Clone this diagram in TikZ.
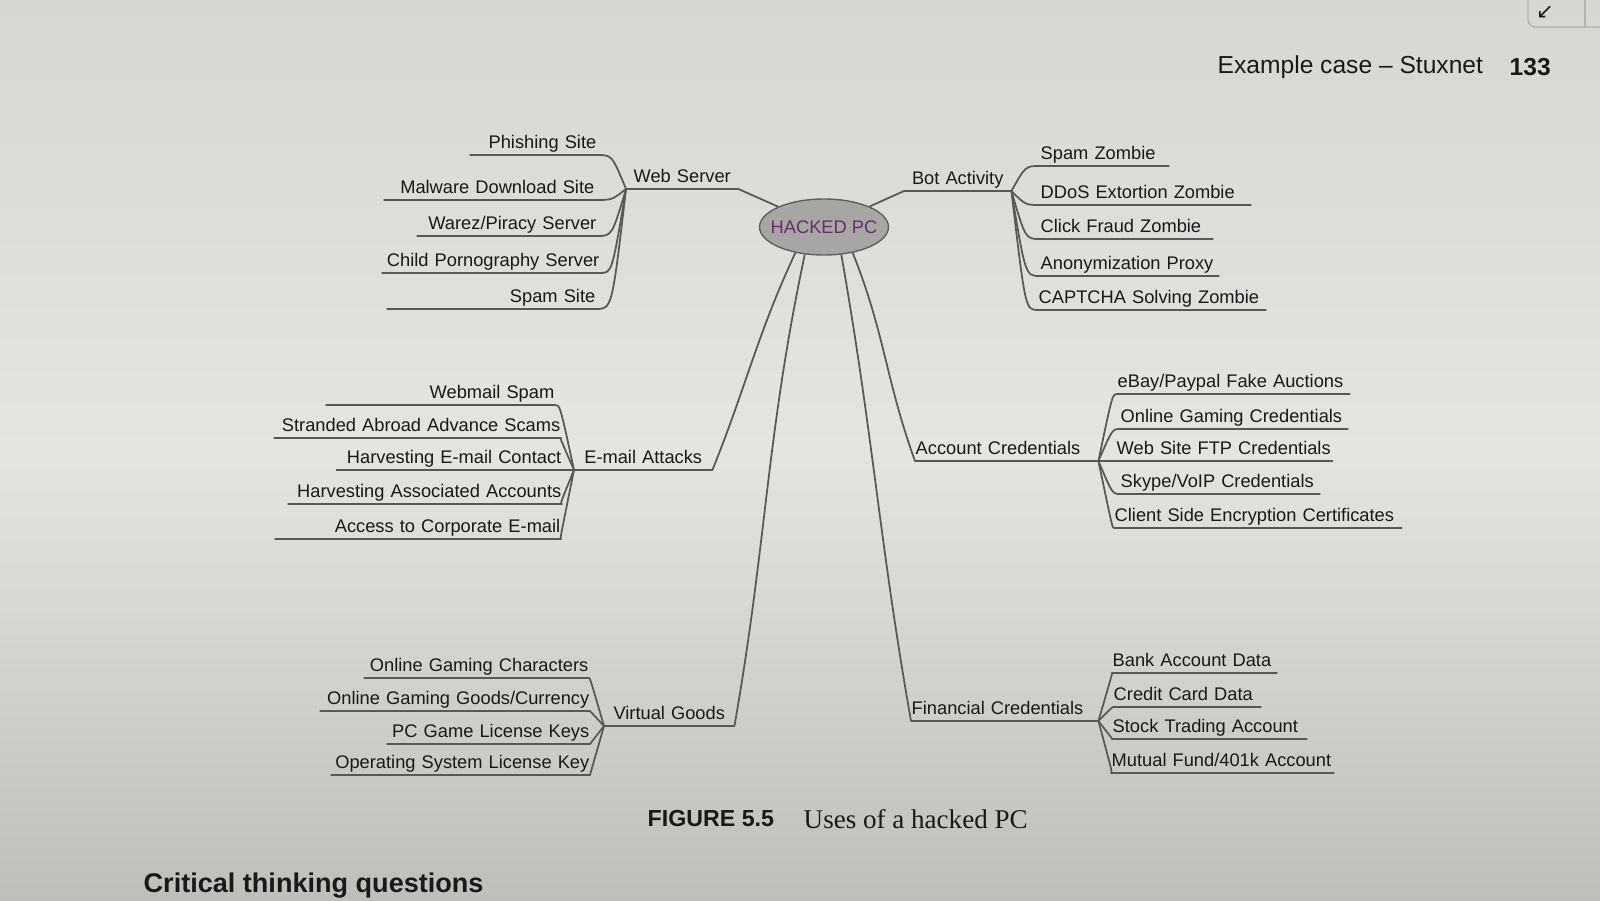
\documentclass[tikz,border=0pt]{standalone}
\usepackage{fontspec}
\setmainfont{Liberation Sans}
\newfontfamily\captionserif{Liberation Serif}
\newfontfamily\symbolfont{DejaVu Sans}
\usetikzlibrary{calc,shapes.geometric}

\definecolor{paperA}{RGB}{214,214,210}
\definecolor{paperB}{RGB}{228,228,224}
\definecolor{paperC}{RGB}{190,190,187}
\definecolor{inkline}{RGB}{88,88,88}
\definecolor{inktext}{RGB}{25,25,25}
\definecolor{pcfill}{RGB}{168,166,164}
\definecolor{pctext}{RGB}{105,45,105}

\begin{document}
\begin{tikzpicture}[
  font=\fontsize{5.2}{6.2}\selectfont,
  text=inktext,
  link/.style={draw=inkline, line width=0.5pt, line join=round},
  branch/.style={inner xsep=0pt, inner ysep=1.3pt, text depth=0.4pt},
  leafL/.style={branch, anchor=south east, align=right},
  leafR/.style={branch, anchor=south west, align=left},
  twigL/.style={to path={.. controls ($(\tikztostart|-\tikztotarget)+(-0.14,0)$) .. (\tikztotarget)}},
  twigR/.style={to path={.. controls ($(\tikztostart|-\tikztotarget)+(0.14,0)$) .. (\tikztotarget)}},
  core/.style={draw=gray!75!black, fill=pcfill, ellipse, minimum width=1.28cm, minimum height=0.56cm, inner xsep=-2.2pt, inner ysep=0pt, text=pctext}
]

% page background
\shade[top color=paperA, bottom color=paperC, middle color=paperB] (0,0) rectangle (16,9);
\useasboundingbox (0,0) rectangle (16,9);
\clip (0,0) rectangle (16,9);

% running head and window button
\node[anchor=west, inner sep=0pt, font=\fontsize{7}{8}\selectfont] (runhead) at (12.17,8.33) {Example case -- Stuxnet};
\node[anchor=west, inner sep=0pt, font=\fontsize{7}{8}\selectfont\bfseries] (pagenum) at (15.09,8.33) {133};
\draw[gray!60, rounded corners=2pt] (15.28,9.2) rectangle (16.3,8.73);
\draw[gray!60] (15.85,9) -- (15.85,8.73);
\node[font=\symbolfont\fontsize{6}{7}\selectfont] (cornerbtn) at (15.45,8.88) {↙};

% centre
\node[core] (pc) at (8.24,6.73) {HACKED PC};

% main branches
\node[branch, anchor=south west, text width=1.11cm, align=center] (web) at (6.26,7.11) {Web Server};
\node[branch, anchor=south west, text width=1.06cm, align=center] (bot) at (9.04,7.09) {Bot Activity};
\node[branch, anchor=south west, text width=1.37cm, align=center] (email) at (5.74,4.30) {E-mail Attacks};
\node[branch, anchor=south west, text width=1.82cm, align=left] (account) at (9.15,4.39) {Account Credentials};
\node[branch, anchor=south west, text width=1.29cm, align=center] (virtual) at (6.04,1.74) {Virtual Goods};
\node[branch, anchor=south west, text width=1.86cm, align=left] (finance) at (9.11,1.79) {Financial Credentials};

% web server
\node[leafL, text width=1.26cm] (phishing) at (5.97,7.45) {Phishing Site};
\node[leafL, text width=2.10cm] (malware) at (5.95,7.00) {Malware Download Site};
\node[leafL, text width=1.79cm] (warez) at (5.97,6.64) {Warez/Piracy Server};
\node[leafL, text width=2.17cm] (childsrv) at (6.00,6.27) {Child Pornography Server};
\node[leafL, text width=2.08cm] (spamsite) at (5.96,5.91) {Spam Site};

% bot activity
\node[leafR, text width=1.28cm] (spamzombie) at (10.40,7.34) {Spam Zombie};
\node[leafR, text width=2.10cm] (ddos) at (10.40,6.95) {DDoS Extortion Zombie};
\node[leafR, text width=1.72cm] (clickfraud) at (10.40,6.61) {Click Fraud Zombie};
\node[leafR, text width=1.78cm] (anonproxy) at (10.40,6.24) {Anonymization Proxy};
\node[leafR, text width=2.27cm] (captcha) at (10.38,5.90) {CAPTCHA Solving Zombie};

% e-mail attacks
\node[leafL, text width=2.28cm] (webmail) at (5.55,4.95) {Webmail Spam};
\node[leafL, text width=2.86cm] (stranded) at (5.61,4.62) {Stranded Abroad Advance Scams};
\node[leafL, text width=2.25cm] (harvcontact) at (5.62,4.30) {Harvesting E-mail Contact};
\node[leafL, text width=2.73cm] (harvaccounts) at (5.62,3.96) {Harvesting Associated Accounts};
\node[leafL, text width=2.85cm] (corpmail) at (5.61,3.61) {Access to Corporate E-mail};

% account credentials
\node[leafR, text width=2.32cm] (ebay) at (11.17,5.06) {eBay/Paypal Fake Auctions};
\node[leafR, text width=2.27cm] (gamingcred) at (11.20,4.71) {Online Gaming Credentials};
\node[leafR, text width=2.16cm] (ftpcred) at (11.16,4.39) {Web Site FTP Credentials};
\node[leafR, text width=1.99cm] (skype) at (11.20,4.06) {Skype/VoIP Credentials};
\node[leafR, text width=2.87cm] (clientcert) at (11.14,3.72) {Client Side Encryption Certificates};

% virtual goods
\node[leafL, text width=2.24cm] (gamechars) at (5.89,2.22) {Online Gaming Characters};
\node[leafL, text width=2.69cm] (gamegoods) at (5.90,1.89) {Online Gaming Goods/Currency};
\node[leafL, text width=2.02cm] (gamekeys) at (5.90,1.56) {PC Game License Keys};
\node[leafL, text width=2.58cm] (oskey) at (5.90,1.25) {Operating System License Key};

% financial credentials
\node[leafR, text width=1.64cm] (bankdata) at (11.12,2.27) {Bank Account Data};
\node[leafR, text width=1.47cm] (carddata) at (11.13,1.93) {Credit Card Data};
\node[leafR, text width=1.94cm] (stocks) at (11.12,1.61) {Stock Trading Account};
\node[leafR, text width=2.22cm] (mutualfund) at (11.11,1.27) {Mutual Fund/401k Account};

% centre to branches
\draw[link] (pc) -- (web.south east) -- (web.south west);
\draw[link] (pc) -- (bot.south west) -- (bot.south east);
\draw[link] (pc.222) to[out=245, in=68] (email.south east) -- (email.south west);
\draw[link] (pc.235) to[out=258, in=80] (virtual.south east) -- (virtual.south west);
\draw[link] (pc.318) to[out=-68, in=110] (account.south west) -- (account.south east);
\draw[link] (pc.302) to[out=-80, in=100] (finance.south west) -- (finance.south east);

% branches to leaves
\draw[link] (web.south west) to[twigL] (phishing.south east) -- (phishing.south west);
\draw[link] (web.south west) to[twigL] (malware.south east) -- (malware.south west);
\draw[link] (web.south west) to[twigL] (warez.south east) -- (warez.south west);
\draw[link] (web.south west) to[twigL] (childsrv.south east) -- (childsrv.south west);
\draw[link] (web.south west) to[twigL] (spamsite.south east) -- (spamsite.south west);

\draw[link] (bot.south east) to[twigR] (spamzombie.south west) -- (spamzombie.south east);
\draw[link] (bot.south east) to[twigR] (ddos.south west) -- (ddos.south east);
\draw[link] (bot.south east) to[twigR] (clickfraud.south west) -- (clickfraud.south east);
\draw[link] (bot.south east) to[twigR] (anonproxy.south west) -- (anonproxy.south east);
\draw[link] (bot.south east) to[twigR] (captcha.south west) -- (captcha.south east);

\draw[link] (email.south west) to[twigL] (webmail.south east) -- (webmail.south west);
\draw[link] (email.south west) to[twigL] (stranded.south east) -- (stranded.south west);
\draw[link] (email.south west) to[twigL] (harvcontact.south east) -- (harvcontact.south west);
\draw[link] (email.south west) to[twigL] (harvaccounts.south east) -- (harvaccounts.south west);
\draw[link] (email.south west) to[twigL] (corpmail.south east) -- (corpmail.south west);

\draw[link] (account.south east) to[twigR] (ebay.south west) -- (ebay.south east);
\draw[link] (account.south east) to[twigR] (gamingcred.south west) -- (gamingcred.south east);
\draw[link] (account.south east) to[twigR] (ftpcred.south west) -- (ftpcred.south east);
\draw[link] (account.south east) to[twigR] (skype.south west) -- (skype.south east);
\draw[link] (account.south east) to[twigR] (clientcert.south west) -- (clientcert.south east);

\draw[link] (virtual.south west) to[twigL] (gamechars.south east) -- (gamechars.south west);
\draw[link] (virtual.south west) to[twigL] (gamegoods.south east) -- (gamegoods.south west);
\draw[link] (virtual.south west) to[twigL] (gamekeys.south east) -- (gamekeys.south west);
\draw[link] (virtual.south west) to[twigL] (oskey.south east) -- (oskey.south west);

\draw[link] (finance.south east) to[twigR] (bankdata.south west) -- (bankdata.south east);
\draw[link] (finance.south east) to[twigR] (carddata.south west) -- (carddata.south east);
\draw[link] (finance.south east) to[twigR] (stocks.south west) -- (stocks.south east);
\draw[link] (finance.south east) to[twigR] (mutualfund.south west) -- (mutualfund.south east);

% caption
\node[anchor=west, inner sep=0pt, font=\fontsize{6.6}{8}\selectfont\bfseries] (figlabel) at (6.47,0.81) {FIGURE 5.5};
\node[anchor=west, inner sep=0pt, font=\fontsize{7.7}{9}\captionserif] (figcaption) at (8.03,0.81) {Uses of a hacked PC};
\node[anchor=base west, inner sep=0pt, font=\fontsize{7.7}{9}\selectfont\bfseries] (nextsection) at (1.43,0.08) {Critical thinking questions};
\end{tikzpicture}
\end{document}
